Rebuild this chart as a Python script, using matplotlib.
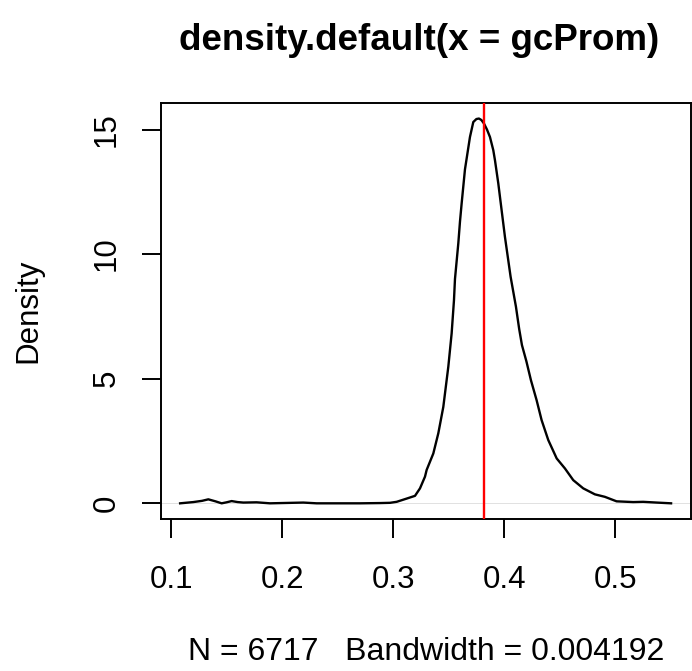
import matplotlib
matplotlib.use('Agg')
import matplotlib.pyplot as plt

plt.rcParams['font.family'] = ['Liberation Sans', 'DejaVu Sans']

# density curve (x = gcProm, y = density)
gc_x = [0.1082, 0.1201, 0.1280, 0.1336, 0.1400, 0.1456, 0.1500, 0.1546, 0.1600,
        0.1651, 0.1771, 0.1891, 0.2191, 0.2311, 0.2702, 0.2882, 0.2972, 0.3032,
        0.3122, 0.3197, 0.3242, 0.3287, 0.3302, 0.3362, 0.3407, 0.3452, 0.3497,
        0.3527, 0.3548, 0.3557, 0.3587, 0.3602, 0.3617, 0.3647, 0.3692, 0.3722,
        0.3750, 0.3773, 0.3795, 0.3818, 0.3845, 0.3872, 0.3902, 0.3917, 0.3947,
        0.3962, 0.4007, 0.4058, 0.4106, 0.4135, 0.4160, 0.4200, 0.4241, 0.4292,
        0.4337, 0.4397, 0.4473, 0.4547, 0.4622, 0.4712, 0.4817, 0.4907, 0.5012,
        0.5162, 0.5252, 0.5372, 0.5503]
dens = [0.00, 0.05, 0.10, 0.16, 0.08, 0.00, 0.04, 0.09, 0.05,
        0.03, 0.04, 0.00, 0.03, 0.00, 0.00, 0.01, 0.02, 0.06,
        0.19, 0.30, 0.60, 1.07, 1.34, 2.00, 2.81, 3.87, 5.48,
        6.82, 8.15, 9.00, 10.43, 11.30, 12.03, 13.40, 14.70, 15.30,
        15.42, 15.44, 15.38, 15.24, 15.00, 14.70, 14.17, 13.77, 12.84,
        12.30, 10.69, 9.09, 7.89, 7.00, 6.35, 5.70, 4.94, 4.14,
        3.34, 2.54, 1.80, 1.40, 0.93, 0.60, 0.36, 0.26, 0.08,
        0.05, 0.06, 0.03, 0.00]
mark_x = 0.3818

x_ticks = [0.1, 0.2, 0.3, 0.4, 0.5]
x_labels = ['0.1', '0.2', '0.3', '0.4', '0.5']
y_ticks = [0, 5, 10, 15]
y_labels = ['0', '5', '10', '15']

fig = plt.figure(figsize=(6.92, 6.71), dpi=100)
ax = fig.add_axes([0.2322, 0.2265, 0.7663, 0.6195])

ax.axhline(0, color='#dcdcdc', lw=0.6, zorder=1)
ax.plot(gc_x, dens, color='black', lw=1.7, zorder=2)
ax.axvline(mark_x, color='#ff0000', lw=1.7, zorder=3)

ax.set_xlim(0.0907, 0.5682)
ax.set_ylim(-0.63, 16.05)
ax.set_xticks(x_ticks, x_labels)
ax.set_yticks(y_ticks, y_labels)
ax.tick_params(direction='out', length=13.7, width=1.4, labelsize=22.5)
ax.tick_params(axis='x', pad=19.5)
ax.tick_params(axis='y', labelrotation=90, pad=14.5)
for t in ax.get_yticklabels():
    t.set_va('center')
for s in ax.spines.values():
    s.set_linewidth(1.4)

fig.text(419 / 692, 1 - 40 / 671, 'density.default(x = gcProm)',
         ha='center', va='center', fontsize=26.5, fontweight='bold')
fig.text(28 / 692, 1 - 311 / 671, 'Density', rotation=90,
         ha='center', va='center', fontsize=22.5)
fig.text(426 / 692, 1 - 652 / 671, 'N = 6717   Bandwidth = 0.004192',
         ha='center', va='center', fontsize=23)

fig.patch.set_facecolor('white')
plt.savefig('out.png', dpi=100)
